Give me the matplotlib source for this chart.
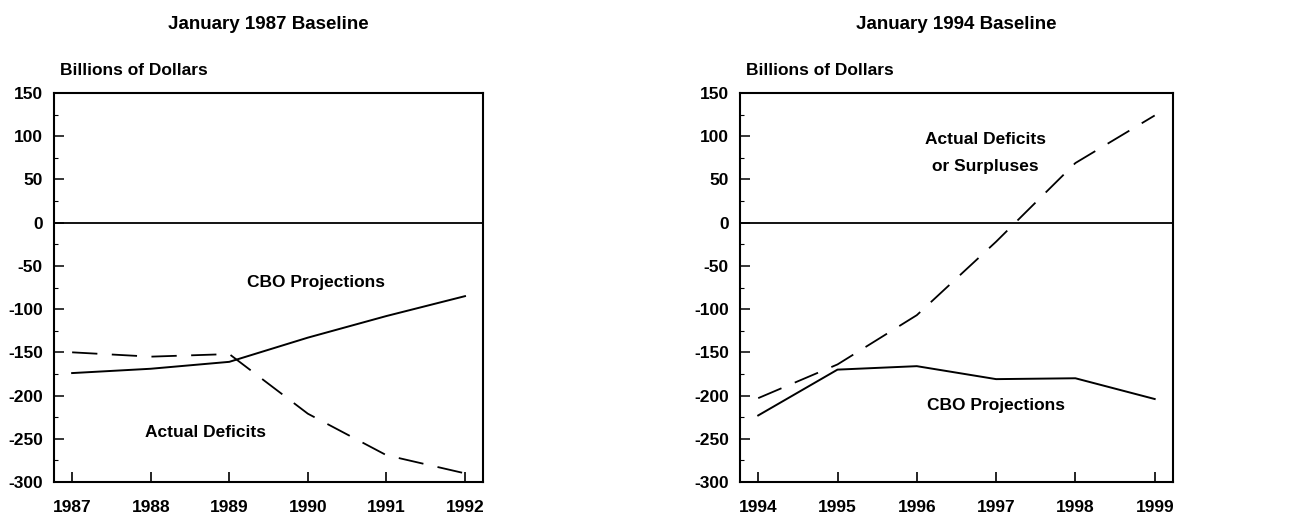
import matplotlib
matplotlib.use("Agg")
import matplotlib.pyplot as plt
from matplotlib.ticker import MultipleLocator

plt.rcParams['font.family'] = ['Liberation Sans', 'DejaVu Sans']
plt.rcParams['font.weight'] = 'bold'
plt.rcParams['axes.unicode_minus'] = False

# January 1987 baseline
years_87 = [1987, 1988, 1989, 1990, 1991, 1992]
cbo_87 = [-174, -169, -161, -133, -108, -85]
actual_87 = [-150, -155, -152, -221, -269, -290]

# January 1994 baseline
years_94 = [1994, 1995, 1996, 1997, 1998, 1999]
cbo_94 = [-223, -170, -166, -181, -180, -204]
actual_94 = [-203, -164, -107, -22, 69, 124]

titles = ["January 1987 Baseline", "January 1994 Baseline"]

fig = plt.figure(figsize=(13.12, 5.19), dpi=100)
ax1 = fig.add_axes([0.0412, 0.0713, 0.327, 0.7495])
ax2 = fig.add_axes([0.564, 0.0713, 0.330, 0.7495])

panels = [(ax1, years_87, cbo_87, actual_87), (ax2, years_94, cbo_94, actual_94)]
for k, (ax, yrs, cbo, act) in enumerate(panels):
    ax.plot(yrs, cbo, color='black', lw=1.4)
    ln, = ax.plot(yrs, act, color='black', lw=1.3)
    ln.set_dashes([14, 8])
    ax.axhline(0, color='black', lw=1.3)
    ax.set_xlim(yrs[0] - 0.23, yrs[-1] + 0.23)
    ax.set_ylim(-300, 150)
    ax.set_xticks(yrs)
    ax.yaxis.set_major_locator(MultipleLocator(50))
    ax.yaxis.set_minor_locator(MultipleLocator(25))
    ax.tick_params(axis='x', direction='in', length=7, width=1.2, labelsize=12.5, pad=13)
    ax.tick_params(axis='y', which='major', direction='in', length=7, width=1.1, labelsize=12.5, pad=8)
    ax.tick_params(axis='y', which='minor', direction='in', length=3, width=0.8)
    for sp in ax.spines.values():
        sp.set_linewidth(1.5)
    ax.text(0.5, 1.175, titles[k], transform=ax.transAxes, ha='center', va='center',
            fontsize=13.5, fontweight='bold')
    ax.text(0.015, 1.058, "Billions of Dollars", transform=ax.transAxes, ha='left', va='center',
            fontsize=12.5, fontweight='bold')

ax1.text(1990.1, -69, "CBO Projections", ha='center', va='center', fontsize=12.5)
ax1.text(1988.7, -243, "Actual Deficits", ha='center', va='center', fontsize=12.5)
ax2.text(1996.87, 96, "Actual Deficits", ha='center', va='center', fontsize=12.5)
ax2.text(1996.87, 65, "or Surpluses", ha='center', va='center', fontsize=12.5)
ax2.text(1997.0, -211, "CBO Projections", ha='center', va='center', fontsize=12.5)

plt.savefig('out.png', dpi=100)
